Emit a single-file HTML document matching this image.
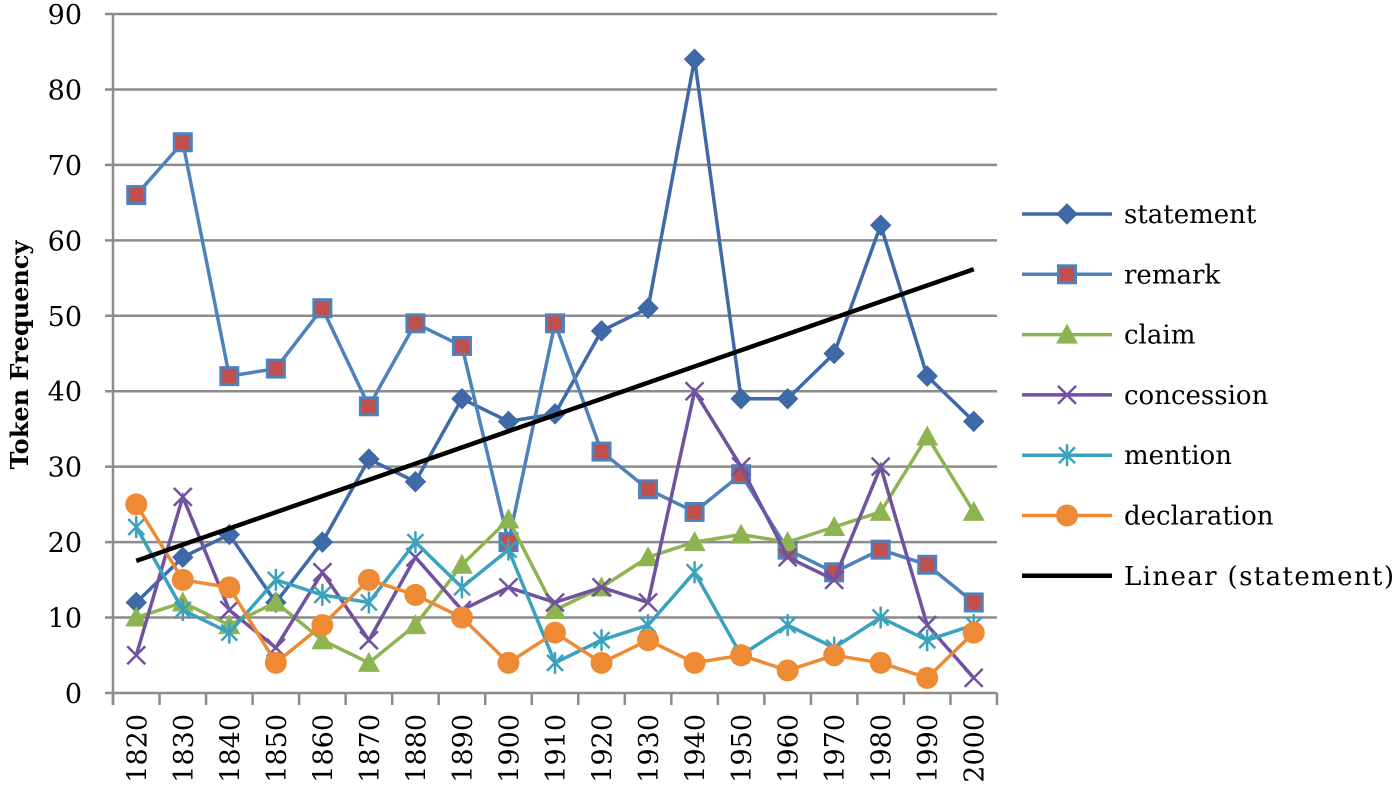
<!DOCTYPE html>
<html><head><meta charset="utf-8"><style>
body{margin:0;background:#fff}
svg text{font-family:"DejaVu Serif","Liberation Serif",serif}
</style></head><body>
<svg id="c" width="1400" height="792" xmlns="http://www.w3.org/2000/svg"></svg>
<script>
const categories=[1820,1830,1840,1850,1860,1870,1880,1890,1900,1910,1920,1930,1940,1950,1960,1970,1980,1990,2000];
const statement=[12,18,21,12,20,31,28,39,36,37,48,51,84,39,39,45,62,42,36];
const remark=[66,73,42,43,51,38,49,46,20,49,32,27,24,29,19,16,19,17,12];
const claim=[10,12,9,12,7,4,9,17,23,11,14,18,20,21,20,22,24,34,24];
const concession=[5,26,11,6,16,7,18,11,14,12,14,12,40,30,18,15,30,9,2];
const mention=[22,11,8,15,13,12,20,14,19,4,7,9,16,5,9,6,10,7,9];
const declaration=[25,15,14,4,9,15,13,10,4,8,4,7,4,5,3,5,4,2,8];
const yTicks=[0,10,20,30,40,50,60,70,80,90];
const NS="http://www.w3.org/2000/svg";
const svg=document.getElementById('c');
const X0=113,X1=997,Y0=693,Y1=14;
const bw=(X1-X0)/categories.length;
const x=i=>X0+bw*(i+0.5);
const y=v=>Y0-(v/90)*(Y0-Y1);
function el(t,a,p){const e=document.createElementNS(NS,t);for(const k in a)e.setAttribute(k,a[k]);(p||svg).appendChild(e);return e;}
yTicks.forEach(v=>{
 const g=el('line',{x1:X0-8,x2:X1,y1:y(v),y2:y(v),stroke:'#8c8c8c','stroke-width':2.5});
 
 
 const t=el('text',{x:82,y:y(v)+10,'text-anchor':'end','font-size':27,fill:'#000'});t.textContent=v;
 
 
});
const ax=el('line',{x1:X0,x2:X0,y1:Y1,y2:Y0+12,stroke:'#8c8c8c','stroke-width':2.5});


for(let i=0;i<=categories.length;i++){el('line',{x1:X0+bw*i,x2:X0+bw*i,y1:Y0,y2:Y0+12,stroke:'#8c8c8c','stroke-width':2.5});}
categories.forEach((c,i)=>{
 const t=el('text',{transform:`translate(${x(i)+10},714) rotate(-90)`,'text-anchor':'end','font-size':27,fill:'#000'});t.textContent=c;
 
 
});
const yt=el('text',{transform:'translate(28,355) rotate(-90)','text-anchor':'middle','font-size':24,'font-weight':'bold',fill:'#000'});yt.textContent='Token Frequency';


function marker(g,type,cx,cy,color){
 if(type==='diamond')el('polygon',{points:`${cx},${cy-10} ${cx+10},${cy} ${cx},${cy+10} ${cx-10},${cy}`,fill:color,stroke:'#3a64a0','stroke-width':1},g);
 else if(type==='square')el('rect',{x:cx-8.5,y:cy-8.5,width:17,height:17,fill:'#c0504d',stroke:'#4f81bd','stroke-width':3},g);
 else if(type==='tri')el('polygon',{points:`${cx},${cy-11} ${cx+11},${cy+9} ${cx-11},${cy+9}`,fill:color},g);
 else if(type==='x'){el('path',{d:`M${cx-9},${cy-9}L${cx+9},${cy+9}M${cx-9},${cy+9}L${cx+9},${cy-9}`,stroke:color,'stroke-width':2.5},g);}
 else if(type==='star'){el('path',{d:`M${cx-8},${cy-8}L${cx+8},${cy+8}M${cx-8},${cy+8}L${cx+8},${cy-8}M${cx},${cy-11}L${cx},${cy+11}`,stroke:color,'stroke-width':2.5},g);}
 else if(type==='circle')el('circle',{cx,cy,r:11,fill:color},g);
}
const series=[
 ['statement',statement,'#3f6aa8','diamond'],
 ['remark',remark,'#4f81bd','square'],
 ['claim',claim,'#8db450','tri'],
 ['concession',concession,'#7052a0','x'],
 ['mention',mention,'#3aa2bd','star'],
 ['declaration',declaration,'#ee8a34','circle']];
series.forEach(([name,data,color,m])=>{
 const g=el('g',{});
 
 
 el('polyline',{points:data.map((v,i)=>x(i)+','+y(v)).join(' '),fill:'none',stroke:color,'stroke-width':3.5},g);
 data.forEach((v,i)=>marker(g,m,x(i),y(v),color));
});
const n=statement.length;let sx=0,sy=0,sxy=0,sxx=0;
statement.forEach((v,i)=>{sx+=i;sy+=v;sxy+=i*v;sxx+=i*i;});
const b=(n*sxy-sx*sy)/(n*sxx-sx*sx),a=(sy-b*sx)/n;
const tl=el('line',{x1:x(0),y1:y(a),x2:x(n-1),y2:y(a+b*(n-1)),stroke:'#000','stroke-width':4.5});


const legend=[...series.map(s=>[s[0],s[2],s[3]]),['Linear (statement)','#000',null]];
legend.forEach(([name,color,m],i)=>{
 const ly=214+i*60.3;
 const g=el('g',{});
 
 
 el('line',{x1:1022,x2:1112,y1:ly,y2:ly,stroke:color,'stroke-width':m?3.5:4.5},g);
 if(m)marker(g,m,1067,ly,color);
 const t=el('text',{x:1124,y:ly+9,'font-size':26,fill:'#000',textLength:name.length>12?270:null},g);t.textContent=name;
 if(name.length<=12)t.removeAttribute('textLength');
});
</script>
</body></html>
